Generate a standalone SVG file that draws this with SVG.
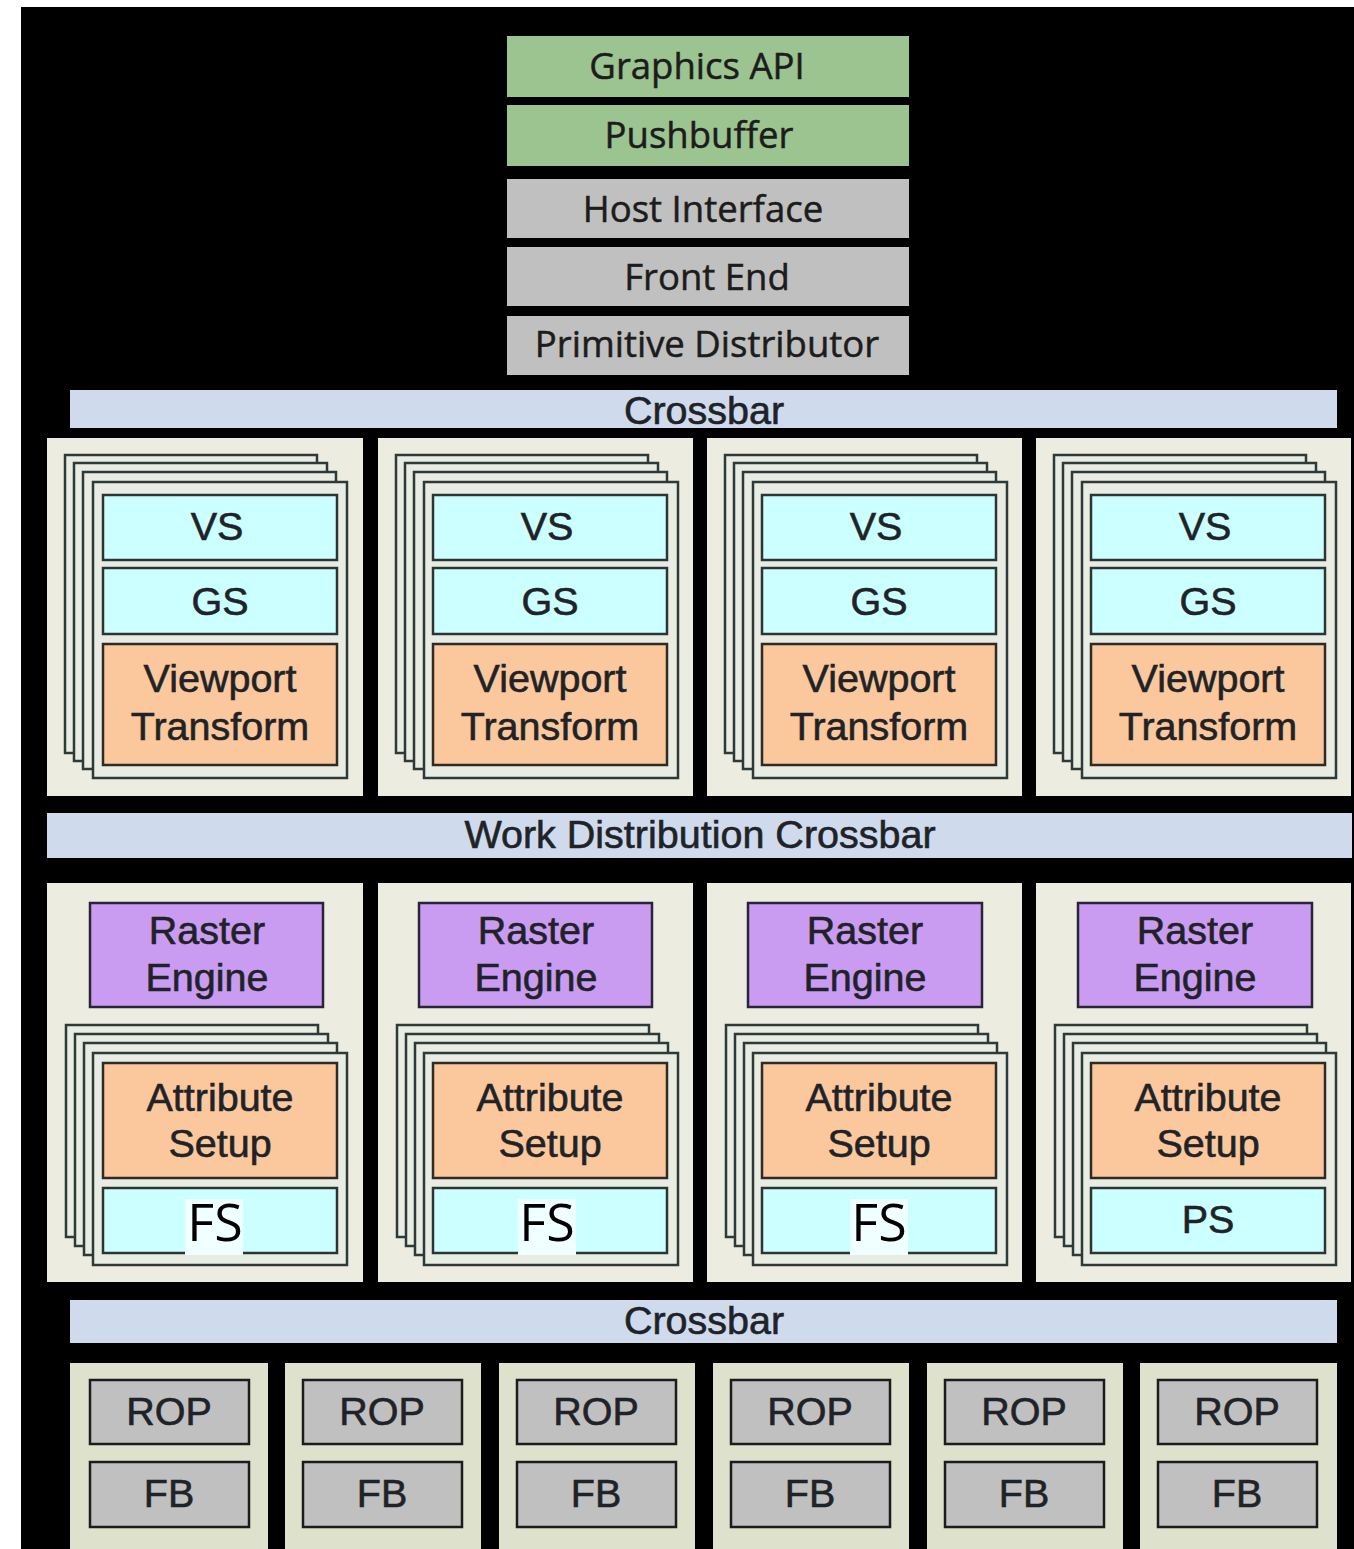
<svg xmlns="http://www.w3.org/2000/svg" xmlns:xlink="http://www.w3.org/1999/xlink" width="1354" height="1549" viewBox="0 0 1354 1549">
<style>
.bg{fill:#000}
.top{font-family:"Open Sans","Noto Sans",sans-serif;font-size:36.5px;fill:#1c1c1c;stroke:#1c1c1c;stroke-width:0.5;text-anchor:middle}
.t{font-family:"Liberation Sans",Arial,sans-serif;font-size:39.5px;fill:#1f2328;stroke:#1f2328;stroke-width:0.6;text-anchor:middle}
.fs{font-family:"Open Sans","Noto Sans",sans-serif;font-size:52px;fill:#000;text-anchor:middle}
.green{fill:#9cc490}
.gray{fill:#c0c0c0}
.xbar{fill:#cfdbec}
.cluster{fill:#ecece1}
.ropc{fill:#dee1cb}
.card{fill:#e8ece3;stroke:#2e3a38;stroke-width:2.5}
.cyan{fill:#ccffff;stroke:#2c3434;stroke-width:2.5}
.orange{fill:#fac89c;stroke:#2e2a26;stroke-width:2.5}
.purple{fill:#c99cf2;stroke:#2a2438;stroke-width:2.5}
.rop{fill:#c0c0c0;stroke:#1c1c1c;stroke-width:2.5}
</style>
<defs>
<g id="cardstack1">
<rect class="card" x="18" y="17" width="252" height="298"/>
<rect class="card" x="27" y="25" width="253" height="298"/>
<rect class="card" x="36" y="34" width="253" height="297"/>
<rect class="card" x="46" y="44" width="254" height="296"/>
</g>
<g id="cardstack2">
<rect class="card" x="19" y="142" width="252" height="212"/>
<rect class="card" x="28" y="151" width="253" height="212"/>
<rect class="card" x="37" y="160" width="253" height="212"/>
<rect class="card" x="46" y="170" width="254" height="212"/>
</g>
</defs>
<rect x="0" y="0" width="1354" height="1549" fill="#ffffff"/>
<rect class="bg" x="21" y="7" width="1333" height="1542"/>

<g id="graphics-api"><rect class="green" x="507" y="36" width="402" height="61"/><text class="top" x="697" y="79">Graphics API</text></g>
<g id="pushbuffer"><rect class="green" x="507" y="105" width="402" height="61"/><text class="top" x="699" y="148">Pushbuffer</text></g>
<g id="host-interface"><rect class="gray" x="507" y="179" width="402" height="59"/><text class="top" x="703" y="222">Host Interface</text></g>
<g id="front-end"><rect class="gray" x="507" y="247" width="402" height="59"/><text class="top" x="707" y="290">Front End</text></g>
<g id="primitive-distributor"><rect class="gray" x="507" y="316" width="402" height="59"/><text class="top" x="707" y="357">Primitive Distributor</text></g>

<g id="crossbar-top"><rect class="xbar" x="70" y="390" width="1267" height="38"/><text class="t" x="704" y="424">Crossbar</text></g>

<g id="geom-cluster-1" transform="translate(47,438)">
<rect class="cluster" x="0" y="0" width="316" height="358"/>
<use xlink:href="#cardstack1"/>
<rect class="cyan" x="56" y="57" width="234" height="65"/><text class="t" x="170" y="102">VS</text>
<rect class="cyan" x="56" y="130" width="234" height="66"/><text class="t" x="173" y="177">GS</text>
<rect class="orange" x="56" y="206" width="234" height="121"/><text class="t" x="173" y="254">Viewport</text><text class="t" x="173" y="302">Transform</text>
</g>
<g id="geom-cluster-2" transform="translate(378,438)">
<rect class="cluster" x="0" y="0" width="315" height="358"/>
<use xlink:href="#cardstack1"/>
<rect class="cyan" x="55" y="57" width="234" height="65"/><text class="t" x="169" y="102">VS</text>
<rect class="cyan" x="55" y="130" width="234" height="66"/><text class="t" x="172" y="177">GS</text>
<rect class="orange" x="55" y="206" width="234" height="121"/><text class="t" x="172" y="254">Viewport</text><text class="t" x="172" y="302">Transform</text>
</g>
<g id="geom-cluster-3" transform="translate(707,438)">
<rect class="cluster" x="0" y="0" width="315" height="358"/>
<use xlink:href="#cardstack1"/>
<rect class="cyan" x="55" y="57" width="234" height="65"/><text class="t" x="169" y="102">VS</text>
<rect class="cyan" x="55" y="130" width="234" height="66"/><text class="t" x="172" y="177">GS</text>
<rect class="orange" x="55" y="206" width="234" height="121"/><text class="t" x="172" y="254">Viewport</text><text class="t" x="172" y="302">Transform</text>
</g>
<g id="geom-cluster-4" transform="translate(1036,438)">
<rect class="cluster" x="0" y="0" width="315" height="358"/>
<use xlink:href="#cardstack1"/>
<rect class="cyan" x="55" y="57" width="234" height="65"/><text class="t" x="169" y="102">VS</text>
<rect class="cyan" x="55" y="130" width="234" height="66"/><text class="t" x="172" y="177">GS</text>
<rect class="orange" x="55" y="206" width="234" height="121"/><text class="t" x="172" y="254">Viewport</text><text class="t" x="172" y="302">Transform</text>
</g>

<g id="work-distribution-crossbar"><rect class="xbar" x="47" y="813" width="1305" height="45"/><text class="t" x="700" y="848">Work Distribution Crossbar</text></g>

<g id="raster-cluster-1" transform="translate(47,883)">
<rect class="cluster" x="0" y="0" width="316" height="399"/>
<rect class="purple" x="43" y="20" width="233" height="104"/><text class="t" x="160" y="61">Raster</text><text class="t" x="160" y="108">Engine</text>
<use xlink:href="#cardstack2"/>
<rect class="orange" x="56" y="180" width="234" height="115"/><text class="t" x="173" y="228">Attribute</text><text class="t" x="173" y="274">Setup</text>
<rect class="cyan" x="56" y="305" width="234" height="65"/>
<rect x="138" y="316" width="58" height="56" fill="#f0ffff"/><text class="fs" x="168" y="358">FS</text>
</g>
<g id="raster-cluster-2" transform="translate(378,883)">
<rect class="cluster" x="0" y="0" width="315" height="399"/>
<rect class="purple" x="41" y="20" width="233" height="104"/><text class="t" x="158" y="61">Raster</text><text class="t" x="158" y="108">Engine</text>
<use xlink:href="#cardstack2"/>
<rect class="orange" x="55" y="180" width="234" height="115"/><text class="t" x="172" y="228">Attribute</text><text class="t" x="172" y="274">Setup</text>
<rect class="cyan" x="55" y="305" width="234" height="65"/>
<rect x="140" y="316" width="58" height="56" fill="#f0ffff"/><text class="fs" x="169" y="358">FS</text>
</g>
<g id="raster-cluster-3" transform="translate(707,883)">
<rect class="cluster" x="0" y="0" width="315" height="399"/>
<rect class="purple" x="41" y="20" width="234" height="104"/><text class="t" x="158" y="61">Raster</text><text class="t" x="158" y="108">Engine</text>
<use xlink:href="#cardstack2"/>
<rect class="orange" x="55" y="180" width="234" height="115"/><text class="t" x="172" y="228">Attribute</text><text class="t" x="172" y="274">Setup</text>
<rect class="cyan" x="55" y="305" width="234" height="65"/>
<rect x="143" y="316" width="58" height="56" fill="#f0ffff"/><text class="fs" x="172" y="358">FS</text>
</g>
<g id="raster-cluster-4" transform="translate(1036,883)">
<rect class="cluster" x="0" y="0" width="315" height="399"/>
<rect class="purple" x="42" y="20" width="234" height="104"/><text class="t" x="159" y="61">Raster</text><text class="t" x="159" y="108">Engine</text>
<use xlink:href="#cardstack2"/>
<rect class="orange" x="55" y="180" width="234" height="115"/><text class="t" x="172" y="228">Attribute</text><text class="t" x="172" y="274">Setup</text>
<rect class="cyan" x="55" y="305" width="234" height="65"/><text class="t" x="172" y="350">PS</text>
</g>

<g id="crossbar-bottom"><rect class="xbar" x="70" y="1300" width="1267" height="43"/><text class="t" x="704" y="1334">Crossbar</text></g>

<g id="rop-1" transform="translate(70,1363)"><rect class="ropc" width="198" height="186"/><rect class="rop" x="20" y="17" width="159" height="64"/><text class="t" x="99" y="62">ROP</text><rect class="rop" x="20" y="99" width="159" height="65"/><text class="t" x="99" y="144">FB</text></g>
<g id="rop-2" transform="translate(285,1363)"><rect class="ropc" width="196" height="186"/><rect class="rop" x="18" y="17" width="159" height="64"/><text class="t" x="97" y="62">ROP</text><rect class="rop" x="18" y="99" width="159" height="65"/><text class="t" x="97" y="144">FB</text></g>
<g id="rop-3" transform="translate(499,1363)"><rect class="ropc" width="196" height="186"/><rect class="rop" x="18" y="17" width="159" height="64"/><text class="t" x="97" y="62">ROP</text><rect class="rop" x="18" y="99" width="159" height="65"/><text class="t" x="97" y="144">FB</text></g>
<g id="rop-4" transform="translate(713,1363)"><rect class="ropc" width="196" height="186"/><rect class="rop" x="18" y="17" width="159" height="64"/><text class="t" x="97" y="62">ROP</text><rect class="rop" x="18" y="99" width="159" height="65"/><text class="t" x="97" y="144">FB</text></g>
<g id="rop-5" transform="translate(927,1363)"><rect class="ropc" width="196" height="186"/><rect class="rop" x="18" y="17" width="159" height="64"/><text class="t" x="97" y="62">ROP</text><rect class="rop" x="18" y="99" width="159" height="65"/><text class="t" x="97" y="144">FB</text></g>
<g id="rop-6" transform="translate(1140,1363)"><rect class="ropc" width="197" height="186"/><rect class="rop" x="18" y="17" width="159" height="64"/><text class="t" x="97" y="62">ROP</text><rect class="rop" x="18" y="99" width="159" height="65"/><text class="t" x="97" y="144">FB</text></g>

<g id="connectors"/>
</svg>
